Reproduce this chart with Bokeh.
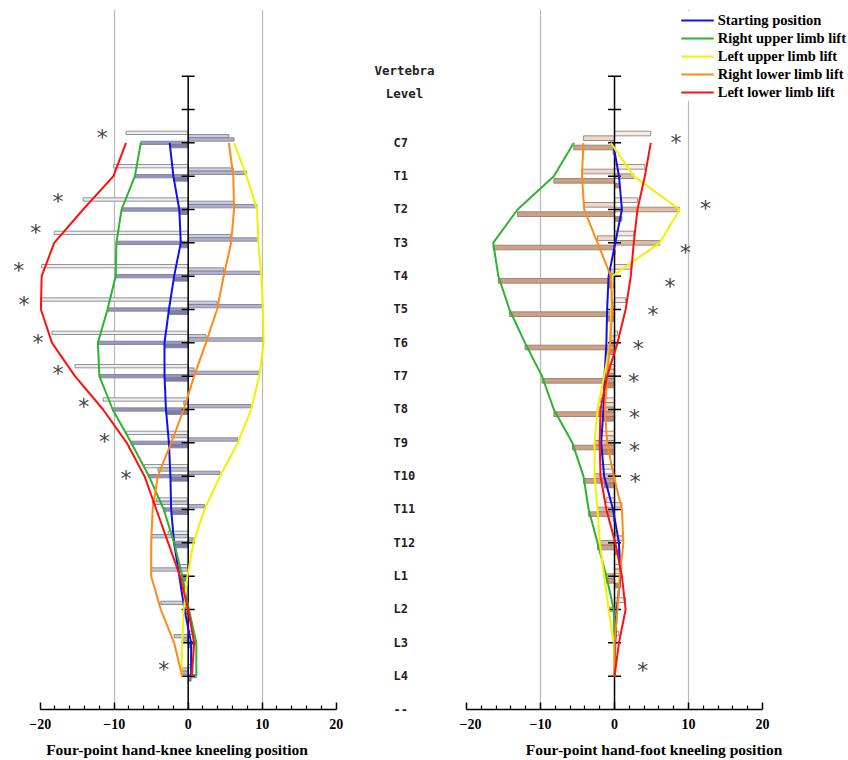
from bokeh.plotting import figure
from bokeh.layouts import row
from bokeh.models import Range1d, FixedTicker, Legend, LegendItem
from bokeh.core.properties import value
from bokeh.embed import file_html
from bokeh.resources import INLINE

# ---------------- data ----------------
levels = ["C7", "T1", "T2", "T3", "T4", "T5", "T6", "T7", "T8", "T9",
          "T10", "T11", "T12", "L1", "L2", "L3", "L4"]
end_label = "--"

series_names = ["Starting position", "Right upper limb lift", "Left upper limb lift",
                "Right lower limb lift", "Left lower limb lift"]

# Four-point hand-knee kneeling position
knee_start = [-2.5, -2.0, -1.2, -1.0, -1.9, -2.6, -3.2, -3.2, -3.0, -2.6, -2.4, -2.3, -1.9, -1.2, -0.5, 0.4, 0.4]
knee_rul = [-6.4, -7.2, -9.0, -9.7, -9.8, -10.9, -12.2, -12.0, -10.2, -7.7, -5.3, -3.3, -1.9, -0.8, 0.1, 1.1, 1.1]
knee_lul = [6.2, 7.9, 9.3, 9.5, 9.9, 10.1, 10.2, 9.6, 8.5, 6.7, 4.3, 2.2, 0.7, -0.1, -0.6, -0.8, -0.9]
knee_rll = [5.5, 6.1, 6.2, 5.8, 4.8, 3.9, 2.4, 0.8, -0.6, -2.3, -4.1, -4.8, -5.0, -5.0, -3.7, -1.9, -0.8]
knee_lll = [-8.4, -10.1, -14.2, -18.1, -19.8, -19.9, -18.4, -15.3, -11.5, -8.3, -5.9, -4.3, -2.7, -1.1, 0.0, 0.8, 0.5]

# Four-point hand-foot kneeling position
foot_start = [-0.2, 0.6, 1.0, 0.1, -0.8, -1.0, -1.1, -1.35, -1.5, -1.8, -1.4, -0.2, 0.6, 0.8, 0.3, 0.1, 0.0]
foot_rul = [-5.5, -8.2, -13.1, -16.4, -15.7, -14.2, -12.1, -9.8, -8.2, -5.7, -4.2, -3.5, -2.3, -1.1, -0.1, 0.0, 0.0]
foot_lul = [-0.5, 2.6, 8.8, 6.1, -0.3, -0.45, -0.6, -1.4, -2.3, -2.7, -2.7, -2.3, -2.0, -1.4, -0.8, -0.1, 0.0]
foot_rll = [-4.2, -4.4, -4.1, -2.3, -0.5, -0.3, -0.6, -1.0, -1.3, -1.0, -0.1, 1.0, 1.2, 0.7, 0.4, 0.0, 0.0]
foot_lll = [4.9, 4.1, 3.1, 2.6, 2.2, 1.5, 0.4, -1.0, -1.9, -2.0, -1.9, -1.1, 0.1, 1.0, 1.5, 0.6, 0.0]

# significance marks (*): position in data units (value, vertebra level index)
knee_sig_x = [-11.6, -17.6, -20.6, -22.9, -22.2, -20.3, -17.6, -14.1, -11.3, -8.4, -3.3]
knee_sig_y = [-0.23, 1.7, 2.62, 3.77, 4.79, 5.94, 6.87, 7.84, 8.9, 10.0, 15.73]
foot_sig_x = [8.3, 12.3, 9.6, 7.5, 5.2, 3.2, 2.6, 2.7, 2.7, 2.8, 3.8]
foot_sig_y = [-0.08, 1.92, 3.22, 4.24, 5.1, 6.1, 7.1, 8.17, 9.16, 10.1, 15.76]

x_major = [-20, -10, 0, 10, 20]
x_minor = [-18, -16, -14, -12, -8, -6, -4, -2, 2, 4, 6, 8, 12, 14, 16, 18]

# ---------------- styling ----------------
LINE_COLORS = ["#1010ee", "#2eb32e", "#f2f200", "#ff8a14", "#ff1010"]
KNEE_BAR = ["#7c7cb6", "#9494c6", "#b0b0d8", "#cacae4", "#ededf4"]   # start, rul, lul, rll, lll
FOOT_BAR = ["#c28866", "#d19e7e", "#e2bb9f", "#f0d6c4", "#faeade"]
SERIF = "Liberation Serif"


def make_panel(data, bar_colors, bar_offsets, bar_h, sig_x, sig_y, xr, frame_w,
               border_left, title):
    p = figure(frame_width=frame_w, frame_height=700,
               x_range=Range1d(*xr), y_range=Range1d(17, -4),
               output_backend="svg", toolbar_location=None,
               y_axis_location=None,
               min_border_left=border_left, min_border_right=0,
               min_border_top=9, min_border_bottom=0)
    p.outline_line_color = None
    p.background_fill_color = "white"
    p.ygrid.visible = False
    p.xgrid.ticker = FixedTicker(ticks=[-10, 10])
    p.xgrid.grid_line_color = "#b8b8b8"
    p.xgrid.grid_line_width = 1.2

    ax = p.xaxis[0]
    ax.bounds = (-20, 20)
    ax.ticker = FixedTicker(ticks=x_major, minor_ticks=x_minor)
    ax.axis_line_width = 1.5
    ax.axis_line_color = "black"
    ax.major_tick_in = 7
    ax.major_tick_out = 0
    ax.minor_tick_in = 4
    ax.minor_tick_out = 0
    ax.major_tick_line_width = 1.5
    ax.minor_tick_line_width = 1.2
    ax.major_tick_line_color = "black"
    ax.minor_tick_line_color = "black"
    ax.major_label_text_font = SERIF
    ax.major_label_text_font_style = "bold"
    ax.major_label_text_font_size = "14px"
    ax.major_label_text_color = "black"
    ax.major_label_standoff = 9
    ax.axis_label = title
    ax.axis_label_text_font = SERIF
    ax.axis_label_text_font_style = "bold"
    ax.axis_label_text_font_size = "15.5px"
    ax.axis_label_text_color = "black"
    ax.axis_label_standoff = 9

    n = len(levels)
    idx = list(range(n))
    # bars: drawn in order lll (top), rll, lul, rul, start (bottom)
    order = [4, 3, 2, 1, 0]
    for k, si in enumerate(order):
        p.hbar(y=[i + bar_offsets[k] for i in idx], left=0, right=data[si],
               height=bar_h, fill_color=bar_colors[si],
               line_color="#7a7a7a", line_width=0.8)

    # vertical axis at x = 0 with level ticks
    p.segment(x0=[0], y0=[-2], x1=[0], y1=[17], line_color="black", line_width=1.5)
    tick_levels = list(range(-2, n))
    p.scatter(x=[0] * len(tick_levels), y=tick_levels, marker="dash", size=13,
              line_color="black", line_width=1.5)

    renderers = []
    for si in range(5):
        r = p.line(x=data[si], y=idx, line_color=LINE_COLORS[si], line_width=2)
        renderers.append(r)

    p.text(x=sig_x, y=sig_y, text=["*"] * len(sig_x), text_font=value("DejaVu Sans"),
           text_font_size="22px", text_color="#444444", text_align="center",
           text_baseline="middle", y_offset=2)
    return p, renderers


knee_data = [knee_start, knee_rul, knee_lul, knee_rll, knee_lll]
foot_data = [foot_start, foot_rul, foot_lul, foot_rll, foot_lll]

p_left, _ = make_panel(knee_data, KNEE_BAR, [-0.3, -0.2, -0.1, 0.0, 0.1], 0.1,
                       knee_sig_x, knee_sig_y, (-24.01, 20.99), 333, 10,
                       "Four-point hand-knee kneeling position")

p_right, rr = make_panel(foot_data, FOOT_BAR, [-0.28, -0.14, 0.0, 0.14, 0.28], 0.14,
                         foot_sig_x, foot_sig_y, (-20.95, 31.62), 389, 0,
                         "Four-point hand-foot kneeling position")

legend = Legend(items=[LegendItem(label=series_names[i], renderers=[rr[i]]) for i in range(5)],
                location="top_right", margin=2, padding=5, spacing=0,
                glyph_width=33, glyph_height=18, label_height=18, label_standoff=4,
                label_text_font=SERIF, label_text_font_style="bold",
                label_text_font_size="14.5px", label_text_color="black",
                background_fill_color="white", background_fill_alpha=1.0,
                border_line_color=None)
p_right.add_layout(legend)

# middle column with vertebra labels
p_mid = figure(frame_width=116, frame_height=733,
               x_range=Range1d(0, 116), y_range=Range1d(18, -4),
               output_backend="svg", toolbar_location=None,
               x_axis_location=None, y_axis_location=None,
               min_border_left=0, min_border_right=0, min_border_top=9, min_border_bottom=0)
p_mid.outline_line_color = None
p_mid.grid.visible = False
all_labels = levels + [end_label]
p_mid.text(x=[50] * len(all_labels), y=list(range(len(all_labels))), text=all_labels,
           text_font=value("DejaVu Sans Mono"), text_font_style="bold",
           text_font_size="12px", text_color="#222222",
           text_align="left", text_baseline="middle")
p_mid.text(x=[61, 61], y=[-2.18, -1.49], text=["Vertebra", "Level"],
           text_font=value("DejaVu Sans Mono"), text_font_style="bold",
           text_font_size="12.5px", text_color="#222222",
           text_align="center", text_baseline="middle")

layout = row(p_left, p_mid, p_right)
open("out.html", "w").write(file_html(layout, INLINE))
